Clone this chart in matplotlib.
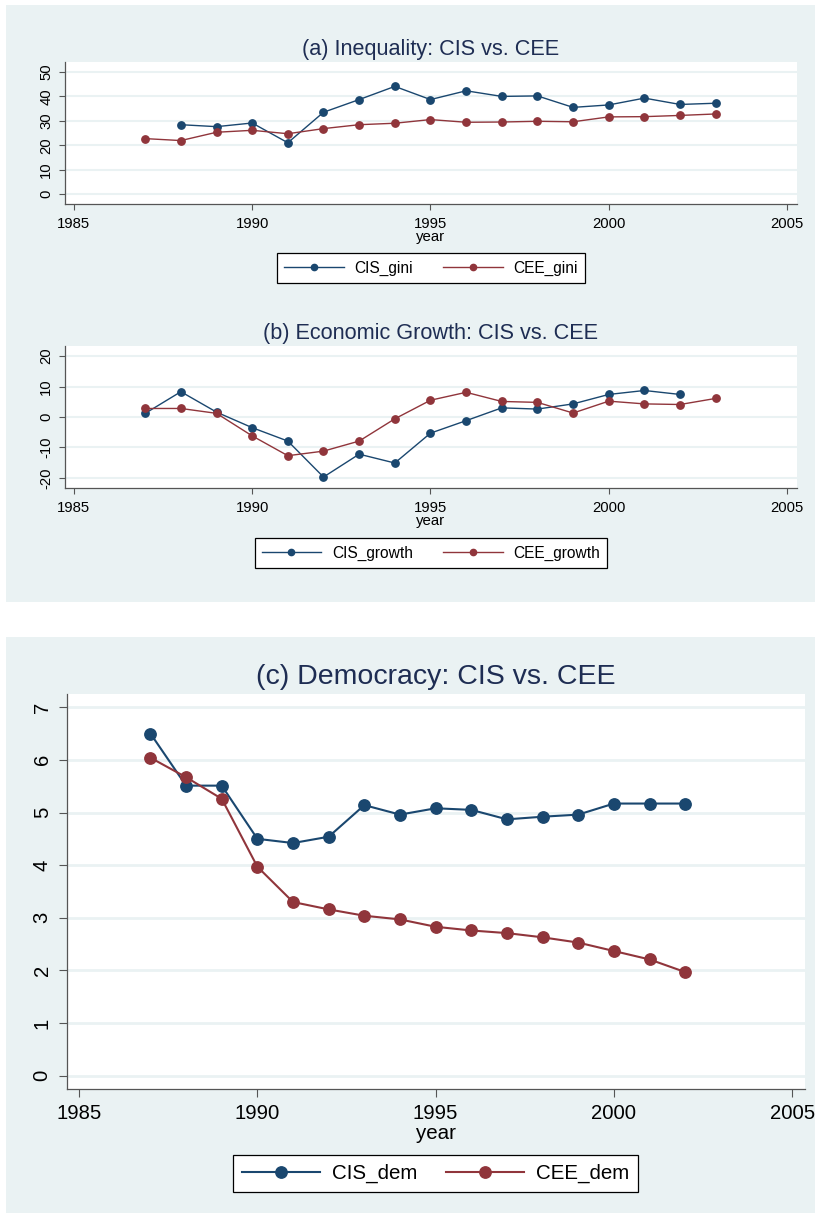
import matplotlib
matplotlib.use("Agg")
import matplotlib.pyplot as plt
from matplotlib.patches import Rectangle

plt.rcParams['font.family'] = ['Liberation Sans', 'DejaVu Sans']
plt.rcParams['axes.unicode_minus'] = False

# ---- data ----
years_cis_gini = list(range(1988, 2004))
cis_gini = [28.4, 27.6, 29.1, 21.0, 33.5, 38.7, 44.1, 38.7, 42.3, 40.0, 40.2, 35.5, 36.5, 39.3, 36.7, 37.2]
years_cee_gini = list(range(1987, 2004))
cee_gini = [22.7, 21.9, 25.3, 26.1, 24.7, 26.8, 28.4, 29.0, 30.5, 29.4, 29.5, 29.8, 29.6, 31.6, 31.7, 32.2, 32.8]

years_cis_growth = list(range(1987, 2003))
cis_growth = [1.2, 8.3, 1.6, -3.5, -7.9, -19.7, -12.2, -15.1, -5.3, -1.2, 3.0, 2.6, 4.3, 7.4, 8.7, 7.4]
years_cee_growth = list(range(1987, 2004))
cee_growth = [2.8, 2.8, 1.2, -6.2, -12.7, -11.2, -7.9, -0.6, 5.5, 8.1, 5.1, 4.8, 1.3, 5.2, 4.3, 4.1, 6.1]

years_dem = list(range(1987, 2003))
cis_dem = [6.50, 5.51, 5.51, 4.50, 4.42, 4.54, 5.14, 4.96, 5.08, 5.05, 4.87, 4.92, 4.96, 5.17, 5.17, 5.17]
cee_dem = [6.04, 5.67, 5.26, 3.97, 3.30, 3.16, 3.04, 2.97, 2.83, 2.76, 2.71, 2.63, 2.53, 2.37, 2.21, 1.97]

xticks = [1985, 1990, 1995, 2000, 2005]
yticks_a = [0, 10, 20, 30, 40, 50]
yticks_b = [-20, -10, 0, 10, 20]
yticks_c = [0, 1, 2, 3, 4, 5, 6, 7]

NAVY = '#1a476f'
MAROON = '#90353b'
BG = '#eaf2f3'
TITLE = '#1e2d53'

W, H = 815, 1214
fig = plt.figure(figsize=(W / 100, H / 100), dpi=100, facecolor='white')

def fx(px):
    return px / W

def fy(py):
    return 1 - py / H

# backgrounds
fig.patches.append(Rectangle((fx(6), fy(602)), fx(815) - fx(6), fy(5) - fy(602),
                             transform=fig.transFigure, facecolor=BG, edgecolor='none', zorder=-5))
fig.patches.append(Rectangle((fx(6), fy(1213)), fx(815) - fx(6), fy(637) - fy(1213),
                             transform=fig.transFigure, facecolor=BG, edgecolor='none', zorder=-5))


def make_ax(left, right, top, bottom, xlim, ylim, yticks, fs_tick, fs_lab, ticklen, lw_grid,
            xpad, ypad, labelpad):
    ax = fig.add_axes([fx(left), fy(bottom), fx(right) - fx(left), fy(top) - fy(bottom)])
    ax.set_facecolor('white')
    ax.set_xlim(*xlim)
    ax.set_ylim(*ylim)
    ax.set_xticks(xticks)
    ax.set_yticks(yticks)
    for s in ['top', 'right']:
        ax.spines[s].set_visible(False)
    for s in ['left', 'bottom']:
        ax.spines[s].set_color('#555555')
        ax.spines[s].set_linewidth(0.9)
    ax.tick_params(axis='both', direction='out', length=ticklen, width=0.8, color='#555555',
                   labelsize=fs_tick, labelcolor='black')
    ax.tick_params(axis='x', pad=xpad)
    ax.tick_params(axis='y', pad=ypad)
    for lab in ax.get_yticklabels():
        lab.set_rotation(90)
        lab.set_va('center')
    ax.grid(axis='y', color=BG, linewidth=lw_grid)
    ax.set_axisbelow(True)
    ax.set_xlabel('year', fontsize=fs_lab, labelpad=labelpad)
    return ax


leg_kw = dict(ncol=2, frameon=True, fancybox=False, edgecolor='black', framealpha=1,
              borderaxespad=0)

# ---- panel a ----
ax1 = make_ax(65, 797, 62, 204, (1984.75, 2005.28), (-4.1, 54.1), yticks_a, 10.7, 10.8, 4.5, 1.5,
              5, 4, -0.5)
ax1.plot(years_cis_gini, cis_gini, color=NAVY, marker='o', ms=5.3, lw=1.0, label='CIS_gini')
ax1.plot(years_cee_gini, cee_gini, color=MAROON, marker='o', ms=5.3, lw=1.0, label='CEE_gini')
fig.text(fx(431), fy(55), '(a) Inequality: CIS vs. CEE', ha='center', va='baseline',
         fontsize=15.6, color=TITLE)
l1 = ax1.legend(loc='center', bbox_to_anchor=(fx(431), fy(268)), bbox_transform=fig.transFigure,
                fontsize=11.2, markerscale=0.85, handlelength=3.85, handletextpad=0.7,
                columnspacing=1.9, borderpad=0.45, **leg_kw)
l1.get_frame().set_linewidth(0.9)

# ---- panel b ----
ax2 = make_ax(65, 797, 346, 488, (1984.75, 2005.28), (-23.3, 23.3), yticks_b, 10.7, 10.8, 4.5, 1.5,
              5, 4, -0.5)
ax2.plot(years_cis_growth, cis_growth, color=NAVY, marker='o', ms=5.3, lw=1.0, label='CIS_growth')
ax2.plot(years_cee_growth, cee_growth, color=MAROON, marker='o', ms=5.3, lw=1.0, label='CEE_growth')
fig.text(fx(431), fy(339), '(b) Economic Growth: CIS vs. CEE', ha='center', va='baseline',
         fontsize=15.6, color=TITLE)
l2 = ax2.legend(loc='center', bbox_to_anchor=(fx(431), fy(553)), bbox_transform=fig.transFigure,
                fontsize=11.2, markerscale=0.85, handlelength=3.85, handletextpad=0.7,
                columnspacing=1.9, borderpad=0.45, **leg_kw)
l2.get_frame().set_linewidth(0.9)

# ---- panel c ----
ax3 = make_ax(67, 805, 694, 1089, (1984.66, 2005.36), (-0.25, 7.25), yticks_c, 14.6, 14.8, 6, 2.0,
              5, 5, 0.5)
ax3.plot(years_dem, cis_dem, color=NAVY, marker='o', ms=8.2, lw=1.5, label='CIS_dem')
ax3.plot(years_dem, cee_dem, color=MAROON, marker='o', ms=8.2, lw=1.5, label='CEE_dem')
fig.text(fx(436), fy(684), '(c) Democracy: CIS vs. CEE', ha='center', va='baseline',
         fontsize=20.5, color=TITLE)
l3 = ax3.legend(loc='center', bbox_to_anchor=(fx(435.5), fy(1173.5)), bbox_transform=fig.transFigure,
                fontsize=14.8, markerscale=1.0, handlelength=3.8, handletextpad=0.58,
                columnspacing=1.4, borderpad=0.42, **leg_kw)
l3.get_frame().set_linewidth(0.9)

fig.savefig('out.png', dpi=100, facecolor='white')
